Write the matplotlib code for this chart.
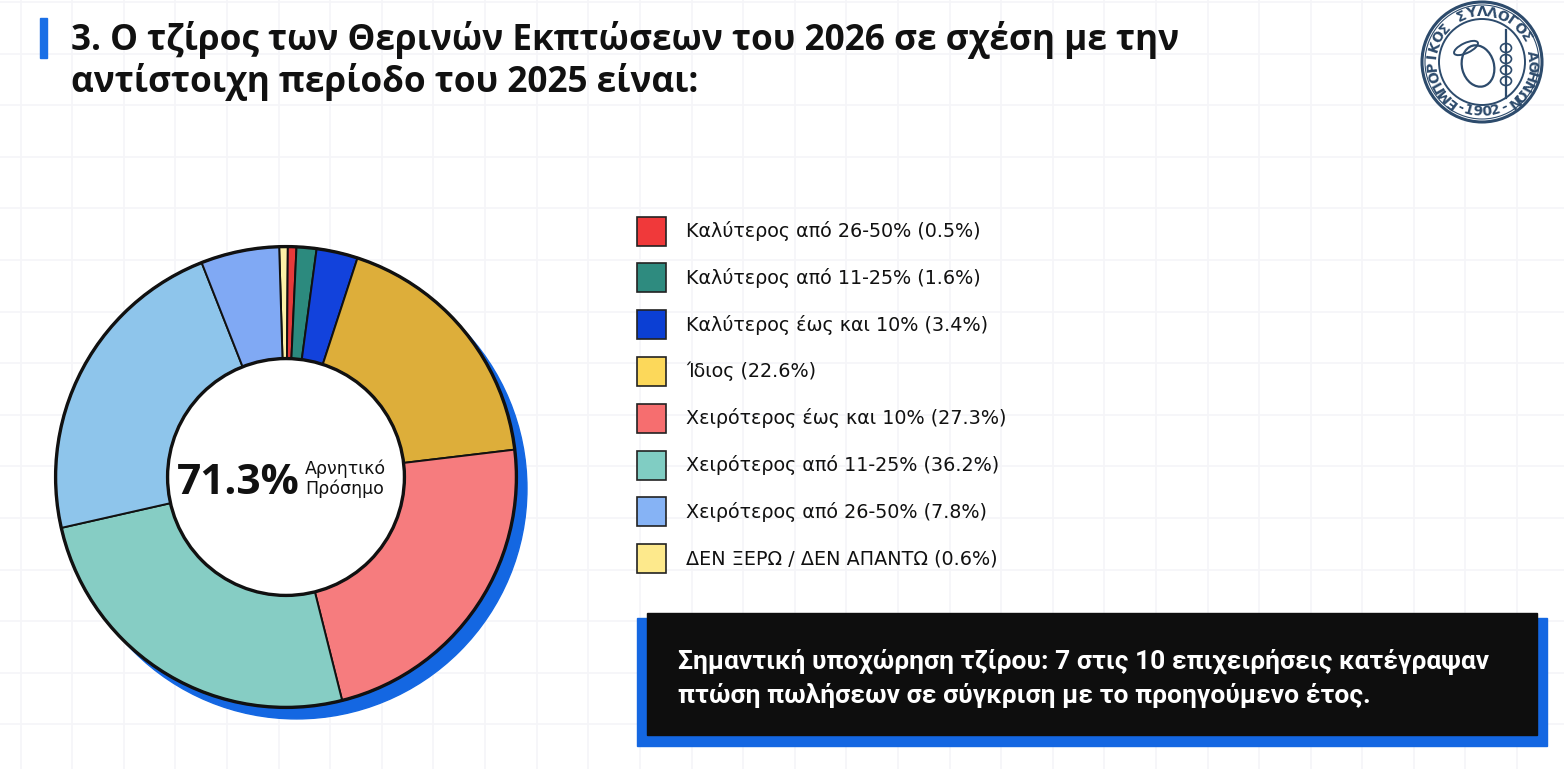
import matplotlib.pyplot as plt
from matplotlib.patches import Rectangle, Circle, Ellipse
import numpy as np

# canvas in pixels
W, H = 1564, 769

title_lines = ["3. Ο τζίρος των Θερινών Εκπτώσεων του 2026 σε σχέση με την",
               "αντίστοιχη περίοδο του 2025 είναι:"]

# slices as drawn in the picture (share of the circle, %), clockwise from top
slice_vals = [0.6, 0.6, 1.4, 2.9, 18.1, 23.0, 25.4, 22.6, 5.5]
slice_colors = ['#fdf0a6', '#e63a3a', '#2c8a7e', '#1242dc', '#ddae3a',
                '#f67c7e', '#86cdc4', '#8ec5eb', '#80a9f4']

legend_labels = ["Καλύτερος από 26-50% (0.5%)",
                 "Καλύτερος από 11-25% (1.6%)",
                 "Καλύτερος έως και 10% (3.4%)",
                 "Ίδιος (22.6%)",
                 "Χειρότερος έως και 10% (27.3%)",
                 "Χειρότερος από 11-25% (36.2%)",
                 "Χειρότερος από 26-50% (7.8%)",
                 "ΔΕΝ ΞΕΡΩ / ΔΕΝ ΑΠΑΝΤΩ (0.6%)"]
legend_colors = ['#f0393a', '#2e8b7f', '#0b3fd4', '#fcd85a',
                 '#f66e6f', '#80cdc3', '#86b3f5', '#fde98c']

center_value = "71.3%"
center_label = ["Αρνητικό", "Πρόσημο"]

note_lines = ["Σημαντική υποχώρηση τζίρου: 7 στις 10 επιχειρήσεις κατέγραψαν",
              "πτώση πωλήσεων σε σύγκριση με το προηγούμενο έτος."]

logo_top = "ΕΜΠΟΡΙΚΟΣ ΣΥΛΛΟΓΟΣ ΑΘΗΝΩΝ"
logo_bottom = "-1902-"

plt.rcParams['font.family'] = ['DejaVu Sans']

fig = plt.figure(figsize=(W / 100, H / 100), dpi=100)
fig.patch.set_facecolor('white')

bg = fig.add_axes([0, 0, 1, 1])
bg.set_xlim(0, W)
bg.set_ylim(H, 0)
bg.axis('off')

# faint background grid
for gx in np.arange(20.7, W, 51.6):
    bg.axvline(gx, color='#f5f5f8', lw=1.2, zorder=0)
for gy in np.arange(1.9, H, 51.6):
    bg.axhline(gy, color='#f5f5f8', lw=1.2, zorder=0)

# title
bg.add_patch(Rectangle((40, 18), 7, 40, color='#1a6fe6', zorder=2))
for i, line in enumerate(title_lines):
    bg.text(71, 50 + i * 42, line, fontsize=25.3, fontweight='bold', family='Open Sans',
            va='baseline', color='#111111')

# donut
cx, cy, R = 286, 477, 240
L = 1.2
aw = 2 * L * R
ax = fig.add_axes([(cx - L * R) / W, (H - cy - L * R) / H, aw / W, aw / H])
ax.set_xlim(-L, L)
ax.set_ylim(-L, L)
ax.set_aspect('equal')
ax.axis('off')

ax.add_patch(Circle((11 / R, -12 / R), 1.0, color='#1467e2', zorder=0))
ax.pie(slice_vals, colors=slice_colors, startangle=91.7, counterclock=False, radius=1.0,
       wedgeprops=dict(width=0.486, edgecolor='#111111', linewidth=1.4))
ax.add_patch(Circle((0, 0), 1.0, fill=False, ec='#111111', lw=2.4, zorder=5))
ax.add_patch(Circle((0, 0), 0.514, fc='white', ec='#111111', lw=2.4, zorder=5))

ax.text(177, 494, center_value, transform=bg.transData, fontsize=30.5, fontweight='bold',
        family='Open Sans', va='baseline', ha='left', color='#111111', zorder=6)
ax.text(305, 474, center_label[0], transform=bg.transData, fontsize=12.5,
        va='baseline', ha='left', color='#111111', zorder=6)
ax.text(305, 494, center_label[1], transform=bg.transData, fontsize=12.5,
        va='baseline', ha='left', color='#111111', zorder=6)

# legend
for i, (lab, col) in enumerate(zip(legend_labels, legend_colors)):
    ly = 231 + i * 46.8
    bg.add_patch(Rectangle((637, ly - 14.5), 29, 29, fc=col, ec='#222222', lw=1.2, zorder=3))
    bg.text(686, ly + 6, lab, fontsize=13.8, va='baseline', color='#111111', zorder=3)

# note box
bg.add_patch(Rectangle((637, 618), 910, 128, color='#1467e2', zorder=2))
bg.add_patch(Rectangle((647, 613), 890, 122, color='#0e0e0e', zorder=3))
for i, line in enumerate(note_lines):
    bg.text(678, 669 + i * 34, line, fontsize=19, fontweight='bold', family='Roboto',
            va='baseline', color='white', zorder=4)

# logo seal
lx, ly, lc = 1482, 62, '#2d4b6c'
bg.add_patch(Circle((lx, ly), 60, fc='white', ec=lc, lw=2.2, zorder=3))
bg.add_patch(Circle((lx, ly), 57, fill=False, ec=lc, lw=0.8, zorder=3))
bg.add_patch(Circle((lx, ly), 43, fill=False, ec=lc, lw=1.4, zorder=3))
angs = np.linspace(-143, 143, len(logo_top))
for ch, a in zip(logo_top, angs):
    t = np.radians(a)
    bg.text(lx + 50 * np.sin(t), ly - 50 * np.cos(t), ch, rotation=-a, fontsize=10,
            fontweight='bold', color=lc, ha='center', va='center', zorder=4)
angs = np.linspace(206, 154, len(logo_bottom))
for ch, a in zip(logo_bottom, angs):
    t = np.radians(a)
    bg.text(lx + 50 * np.sin(t), ly - 50 * np.cos(t), ch, rotation=180 - a, fontsize=10,
            fontweight='bold', color=lc, ha='center', va='center', zorder=4)
# rough head, winged cap and staff
bg.add_patch(Ellipse((lx - 4, ly + 4), 32, 42, angle=-15, fill=False, ec=lc, lw=1.6, zorder=4))
bg.add_patch(Ellipse((lx - 16, ly - 14), 26, 10, angle=-25, fill=False, ec=lc, lw=1.4, zorder=4))
bg.plot([lx + 24, lx + 24], [ly - 32, ly + 36], color=lc, lw=1.6, zorder=4)
for k in range(4):
    bg.add_patch(Ellipse((lx + 24, ly - 14 + k * 11), 11, 9, fill=False, ec=lc, lw=1.2, zorder=4))

fig.savefig('out.png', dpi=100)
